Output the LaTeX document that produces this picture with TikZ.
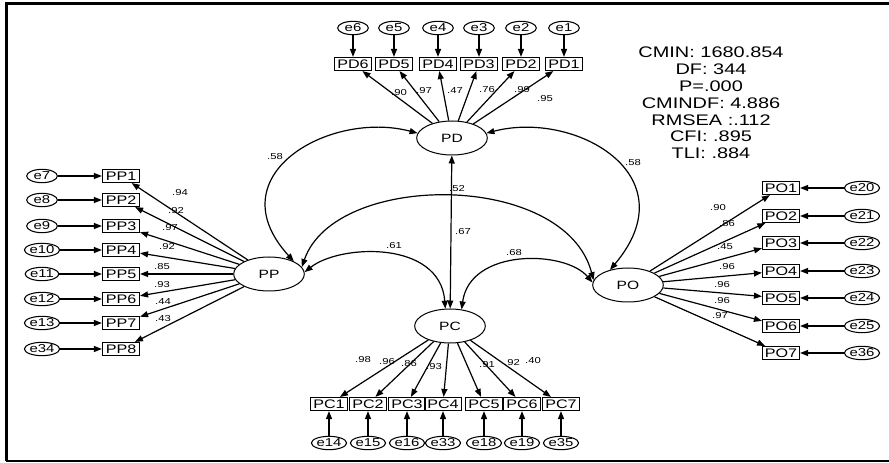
\documentclass[tikz,border=0pt]{standalone}
\usepackage{fontspec}
\setmainfont{Liberation Sans}[FakeStretch=1.3]
\usetikzlibrary{arrows.meta}
\usetikzlibrary{shapes.geometric}
\tikzset{
    latent/.style={ellipse, draw, line width=0.75pt, minimum width=53pt, minimum height=25.5pt, inner sep=0pt, font=\fontsize{9}{10}\selectfont},
    observed/.style={rectangle, draw, line width=1.1pt, minimum width=27.5pt, minimum height=9.5pt, inner sep=0pt, font=\fontsize{9.3}{9.5}\selectfont},
    errvar/.style={ellipse, draw, line width=0.8pt, minimum width=23pt, minimum height=10pt, inner sep=0pt, font=\fontsize{8.6}{9}\selectfont},
    loading/.style={inner sep=0pt, font=\fontsize{6.5}{7}\selectfont},
    regr/.style={-{Triangle[length=6pt,width=4.5pt]}, line width=0.9pt},
    covar/.style={{Triangle[length=6pt,width=4.5pt]}-{Triangle[length=6pt,width=4.5pt]}, line width=0.9pt},
}
\begin{document}
\begin{tikzpicture}[x=0.75pt, y=-0.75pt]
    \useasboundingbox (0,0) rectangle (889,463);
    \draw[line width=2.3pt] (889,3.3) -- (6.7,3.3) -- (6.7,461);
    \draw[line width=1.6pt] (5.5,460.7) -- (889,460.7);

    \node[latent] (PD) at (452,138) {PD};
    \node[latent] (PP) at (269,274) {PP};
    \node[latent] (PO) at (628,285) {PO};
    \node[latent] (PC) at (450,326) {PC};

    \foreach \i/\xx/\w/\lx/\ly in {1/564/.95/545/99, 2/521/.99/522/90, 3/479/.76/487/90, 4/438/.47/455/91, 5/394/.97/424/91, 6/353/.90/399/93} {
        \node[observed] (pd\i) at (\xx,64) {PD\i};
        \node[errvar] (epd\i) at (\xx,28) {e\i};
        \draw[regr] (epd\i) -- (pd\i);
        \draw[regr] (PD) -- (pd\i);
        \node[loading] (lpd\i) at (\lx,\ly) {\w};
    }

    \foreach \i/\yy/\err/\w/\lx/\ly in {1/176/7/.94/180/193, 2/200/8/.92/176/211, 3/226/9/.97/170/228, 4/250/10/.92/167/247, 5/274/11/.85/162/267, 6/299/12/.93/162/285, 7/323/13/.44/163/302, 8/349/34/.43/163/319} {
        \node[observed] (pp\i) at (121,\yy) {PP\i};
        \node[errvar] (epp\i) at (42,\yy) {e\err};
        \draw[regr] (epp\i) -- (pp\i);
        \draw[regr] (PP) -- (pp\i);
        \node[loading] (lpp\i) at (\lx,\ly) {\w};
    }

    \foreach \i/\yy/\err/\w/\lx/\ly in {1/188/20/.90/718/208, 2/216/21/.86/727/224, 3/243/22/.45/725/247, 4/271/23/.96/727/267, 5/298/24/.96/722/285, 6/326/25/.96/722/301, 7/353/36/.97/720/316} {
        \node[observed] (po\i) at (781,\yy) {PO\i};
        \node[errvar] (epo\i) at (862,\yy) {e\err};
        \draw[regr] (epo\i) -- (po\i);
        \draw[regr] (PO) -- (po\i);
        \node[loading] (lpo\i) at (\lx,\ly) {\w};
    }

    \foreach \i/\xx/\err/\w/\lx/\ly in {1/329/14/.98/363/360, 2/368/15/.96/387/362, 3/407/16/.86/409/364, 4/443/33/.93/434/367, 5/484/18/.91/487/365, 6/522/19/.92/512/363, 7/561/35/.40/533/361} {
        \node[observed] (pc\i) at (\xx,404) {PC\i};
        \node[errvar] (epc\i) at (\xx,443) {e\err};
        \draw[regr] (epc\i) -- (pc\i);
        \draw[regr] (PC) -- (pc\i);
        \node[loading] (lpc\i) at (\lx,\ly) {\w};
    }

    \draw[covar] (PD.172) .. controls (330,110) and (215,175) .. (PP.27);
    \draw[covar] (PD.8) .. controls (575,110) and (690,175) .. (PO.140);
    \draw[covar] (PD) -- (PC);
    \draw[covar] (PP.12) .. controls (335,171) and (565,171) .. (PO.172);
    \draw[covar] (PP.3) .. controls (340,244) and (440,240) .. (PC.105);
    \draw[covar] (PO.176) .. controls (565,250) and (470,248) .. (PC.55);

    \node[loading] (cpdpp) at (275,157) {.58};
    \node[loading] (cpdpo) at (633,163) {.58};
    \node[loading] (cpppo) at (457,189) {.52};
    \node[loading] (cpdpc) at (463,232) {.67};
    \node[loading] (cpppc) at (394,246) {.61};
    \node[loading] (cpopc) at (514,253) {.68};

    \node[align=center, font=\fontsize{11.5}{12.6}\selectfont] (fit) at (711,103) {CMIN: 1680.854\\DF: 344\\P=.000\\CMINDF: 4.886\\RMSEA :.112\\CFI: .895\\TLI: .884};
\end{tikzpicture}
\end{document}
